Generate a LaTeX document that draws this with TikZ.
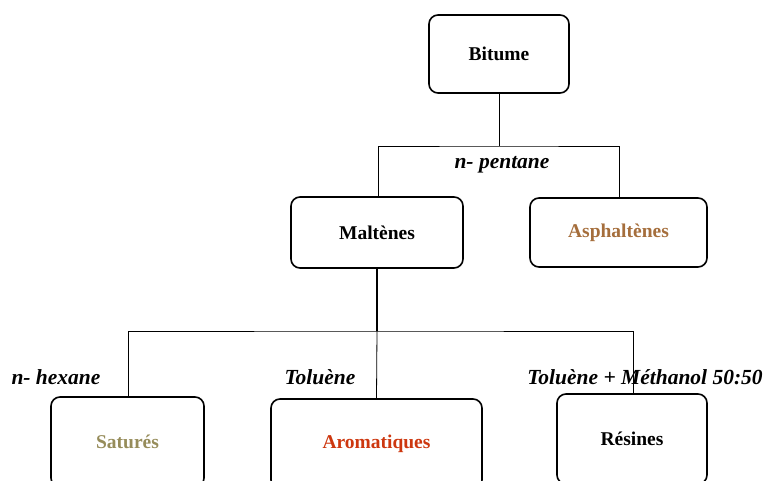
\documentclass[tikz,border=0pt]{standalone}
\usepackage{fontspec}
\setmainfont{Liberation Serif}
\definecolor{olivec}{RGB}{150,140,90}
\definecolor{brownc}{RGB}{165,110,60}
\definecolor{redc}{RGB}{205,55,15}
\begin{document}
\begin{tikzpicture}[x=1pt,y=-1pt,
  box/.style={draw,line width=1.6pt,rounded corners=9pt,font=\bfseries\fontsize{19.5}{22}\selectfont},
  conn/.style={line width=0.8pt},
  lab/.style={font=\bfseries\itshape\fontsize{21.5}{24}\selectfont,inner sep=0pt}]
\useasboundingbox (0,0) rectangle (766,481);
\clip (0,0) rectangle (766,481);
\node[box,minimum width=140pt,minimum height=78pt] (bit) at (499,54) {Bitume};
\node[box,minimum width=172pt,minimum height=71pt] (mal) at (377,232.5) {Maltènes};
\node[box,minimum width=177pt,minimum height=69pt,text=brownc] (asp) at (618.5,232.5) {Asphaltènes};
\node[box,minimum width=153pt,minimum height=90pt,text=olivec] (sat) at (127.5,442) {Saturés};
\node[box,minimum width=211pt,minimum height=90pt,text=redc] (aro) at (376.5,444) {Aromatiques};
\node[box,minimum width=150pt,minimum height=90pt] (res) at (632,439) {Résines};
\coordinate (j1) at (499,146);
\coordinate (j2) at (377,331);
\draw[conn] (bit.south) -- (j1);
\draw[conn] (mal.north -| 378,0) |- (j1) -| (asp.north -| 619,0);
\draw[line width=1.6pt] (mal.south) -- (j2);
\draw[conn] (sat.north -| 128,0) |- (j2) -| (res.north -| 633,0);
\draw[conn] (j2) -- (aro.north);
\node[lab] (np) at (502,165) {n- pentane};
\node[lab] (nh) at (56,377) {n- hexane};
\node[lab] (tol) at (320,377) {Toluène};
\node[lab] (tm) at (645,377) {Toluène + Méthanol 50:50};
\end{tikzpicture}
\end{document}
